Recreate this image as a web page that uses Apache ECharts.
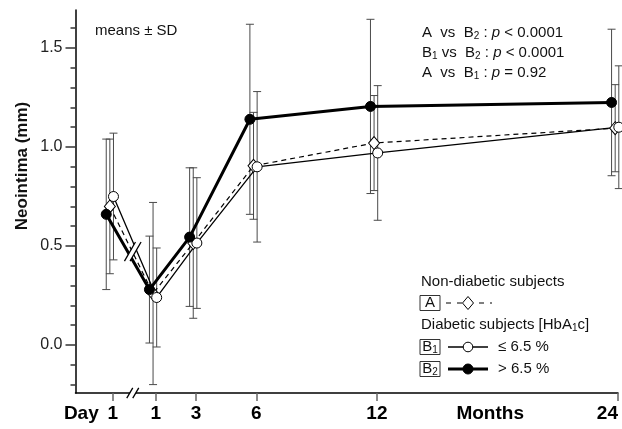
<!DOCTYPE html>
<html><head><meta charset="utf-8">
<script src="https://cdn.jsdelivr.net/npm/echarts@6/dist/echarts.min.js"></script>
<style>html,body{margin:0;padding:0;background:#fff}#c{width:622px;height:429px}</style>
</head><body><div id="c"></div>
<script>
// ---- data ----
const timeLabels  = ['1', '1', '3', '6', '12', '24'];
const timeAxisPos = [-1.15, 1, 3, 6, 12, 24];          // months (Day 1 sits before the axis break)
const meanA  = [0.70, 0.26, 0.515, 0.905, 1.02, 1.095];
const sdA    = [0.34, 0.46, 0.38, 0.27, 0.24, 0.22];
const meanB1 = [0.75, 0.24, 0.515, 0.90, 0.97, 1.10];
const sdB1   = [0.32, 0.25, 0.33, 0.38, 0.34, 0.31];
const meanB2 = [0.66, 0.28, 0.545, 1.14, 1.205, 1.225];
const sdB2   = [0.38, 0.27, 0.35, 0.48, 0.44, 0.37];
const yLabelValues = [0, 0.5, 1.0, 1.5];
const yMinorTicks  = [-0.2, -0.1, 0.1, 0.2, 0.3, 0.4, 0.6, 0.7, 0.8, 0.9, 1.1, 1.2, 1.3, 1.4, 1.6];
const xExtraLabels = [{text: 'Day', at: -2.71}, {text: 'Months', at: 17.64}];

// ---- layout / style ----
const Y_MIN = -0.2424, Y_MAX = 1.692, X_MIN = -3, X_MAX = 24;
const dodge = {A: -0.14, B1: 0.04, B2: -0.32};
const BREAK_X = -0.15;
const ERR_COLOR = '#4a4a4a';
const SANS = "'Liberation Sans', Arial, sans-serif";

const xLabelValues = timeAxisPos.concat(xExtraLabels.map(d => d.at)).sort((a, b) => a - b);
function xLabelText(v) {
  for (let i = 0; i < timeAxisPos.length; i++) if (Math.abs(timeAxisPos[i] - v) < 1e-6) return timeLabels[i];
  for (const d of xExtraLabels) if (Math.abs(d.at - v) < 1e-6) return d.text;
  return '';
}

function pts(mean, off) { return timeAxisPos.map((t, i) => [t + off, mean[i]]); }
function errs(mean, sd, off) { return timeAxisPos.map((t, i) => [t + off, mean[i] - sd[i], mean[i] + sd[i]]); }

function errRender(params, api) {
  const x = api.value(0);
  const lo = api.coord([x, api.value(1)]);
  const hi = api.coord([x, api.value(2)]);
  const w = 4;
  const st = {stroke: ERR_COLOR, lineWidth: 1, fill: null};
  return {type: 'group', children: [
    {type: 'line', shape: {x1: lo[0], y1: lo[1], x2: hi[0], y2: hi[1]}, style: st},
    {type: 'line', shape: {x1: lo[0] - w, y1: lo[1], x2: lo[0] + w, y2: lo[1]}, style: st},
    {type: 'line', shape: {x1: hi[0] - w, y1: hi[1], x2: hi[0] + w, y2: hi[1]}, style: st}
  ]};
}

function interpAt(mean, off, x) {
  const x0 = timeAxisPos[0] + off, x1 = timeAxisPos[1] + off;
  const t = (x - x0) / (x1 - x0);
  return mean[0] + t * (mean[1] - mean[0]);
}
const breakY = (interpAt(meanA, dodge.A, BREAK_X) + interpAt(meanB1, dodge.B1, BREAK_X) + interpAt(meanB2, dodge.B2, BREAK_X)) / 3;

function slashMark(c, L, d, lw) {
  const ux = 0.5 * L / 2, uy = -0.866 * L / 2;
  return {type: 'group', children: [
    {type: 'polygon', shape: {points: [
      [c[0] - d - ux * 0.8, c[1] - uy * 0.8], [c[0] - d + ux * 0.8, c[1] + uy * 0.8],
      [c[0] + d + ux * 0.8, c[1] + uy * 0.8], [c[0] + d - ux * 0.8, c[1] - uy * 0.8]]},
      style: {fill: '#fff', stroke: null}},
    {type: 'line', shape: {x1: c[0] - d - ux, y1: c[1] - uy, x2: c[0] - d + ux, y2: c[1] + uy}, style: {stroke: '#000', lineWidth: lw}},
    {type: 'line', shape: {x1: c[0] + d - ux, y1: c[1] - uy, x2: c[0] + d + ux, y2: c[1] + uy}, style: {stroke: '#000', lineWidth: lw}}
  ]};
}

const chart = echarts.init(document.getElementById('c'), null, {renderer: 'canvas'});

const subRich = {
  t: {fontSize: 15, fontFamily: SANS, color: '#111'},
  s: {fontSize: 10, fontFamily: SANS, color: '#111', padding: [6, 0, 0, 0]},
  i: {fontSize: 15, fontFamily: SANS, fontStyle: 'italic', color: '#111'}
};
function richText(x, y, text, align) {
  return {type: 'text', x: x, y: y, z: 50,
    style: {text: text, rich: subRich, font: '15px ' + SANS, fill: '#111', align: align || 'left', verticalAlign: 'middle'}};
}
function box(x, cy, text) {
  return [
    {type: 'rect', shape: {x: x, y: cy - 7.5, width: 20, height: 15}, style: {fill: '#fff', stroke: '#333', lineWidth: 1}, z: 50},
    richText(x + 10, cy, text, 'center')
  ];
}
const LX = 420;
const rowA = 303, rowB1 = 347, rowB2 = 369;
const graphics = [
  {type: 'text', x: 22, y: 166, rotation: Math.PI / 2, z: 50,
    style: {text: 'Neointima (mm)', font: 'bold 17px ' + SANS, fill: '#111', align: 'center', verticalAlign: 'middle'}},
  richText(95, 31, '{t|means ± SD}'),
  richText(422, 33, '{t|A  vs  B}{s|2}{t| : }{i|p}{t| < 0.0001}'),
  richText(422, 53, '{t|B}{s|1}{t| vs  B}{s|2}{t| : }{i|p}{t| < 0.0001}'),
  richText(422, 73, '{t|A  vs  B}{s|1}{t| : }{i|p}{t| = 0.92}'),
  richText(421, 282, '{t|Non-diabetic subjects}'),
  ...box(LX, rowA, '{t|A}'),
  {type: 'line', z: 50, shape: {x1: 446, y1: rowA, x2: 492, y2: rowA}, style: {stroke: '#000', lineWidth: 1.2, lineDash: [5, 6]}},
  {type: 'polygon', z: 51, shape: {points: [[468, rowA - 6.5], [473.5, rowA], [468, rowA + 6.5], [462.5, rowA]]}, style: {fill: '#fff', stroke: '#000', lineWidth: 1}},
  richText(421, 325, '{t|Diabetic subjects [HbA}{s|1}{t|c]}'),
  ...box(LX, rowB1, '{t|B}{s|1}'),
  {type: 'line', z: 50, shape: {x1: 448, y1: rowB1, x2: 488, y2: rowB1}, style: {stroke: '#000', lineWidth: 1.3}},
  {type: 'circle', z: 51, shape: {cx: 468, cy: rowB1, r: 4.8}, style: {fill: '#fff', stroke: '#000', lineWidth: 1}},
  richText(498, rowB1, '{t|≤ 6.5 %}'),
  ...box(LX, rowB2, '{t|B}{s|2}'),
  {type: 'line', z: 50, shape: {x1: 448, y1: rowB2, x2: 488, y2: rowB2}, style: {stroke: '#000', lineWidth: 3}},
  {type: 'circle', z: 51, shape: {cx: 468, cy: rowB2, r: 5}, style: {fill: '#000', stroke: '#000', lineWidth: 1}},
  richText(498, rowB2, '{t|> 6.5 %}')
];

const option = {
  animation: false,
  backgroundColor: '#fff',
  grid: {left: 75.5, right: 4, top: 10, bottom: 36, containLabel: false, outerBoundsMode: 'none'},
  xAxis: {
    type: 'value', min: X_MIN, max: X_MAX,
    splitLine: {show: false},
    axisLine: {show: true, onZero: false, lineStyle: {color: '#000', width: 1.5}},
    axisTick: {show: true, customValues: timeAxisPos, length: 8, lineStyle: {color: '#666', width: 1.5}},
    axisLabel: {show: true, customValues: xLabelValues, formatter: xLabelText, margin: 11, alignMaxLabel: 'right',
      fontFamily: SANS, fontWeight: 'bold', fontSize: 19, color: '#000'}
  },
  yAxis: [{
    type: 'value', min: Y_MIN, max: Y_MAX,
    splitLine: {show: false},
    axisLine: {show: true, onZero: false, lineStyle: {color: '#000', width: 1.5}},
    axisTick: {show: true, customValues: yLabelValues, length: 10, lineStyle: {color: '#333', width: 1.5}},
    axisLabel: {show: true, customValues: yLabelValues, margin: 13, fontFamily: SANS, fontSize: 16, color: '#222',
      formatter: v => v.toFixed(1)}
  }, {
    type: 'value', min: Y_MIN, max: Y_MAX, position: 'left',
    splitLine: {show: false},
    axisLine: {show: false, onZero: false},
    axisTick: {show: true, customValues: yMinorTicks, length: 5, lineStyle: {color: '#333', width: 1.5}},
    axisLabel: {show: false}
  }],
  series: [
    {type: 'custom', name: 'errA', renderItem: errRender, data: errs(meanA, sdA, dodge.A), encode: {x: 0, y: [1, 2]}, z: 1, clip: false},
    {type: 'custom', name: 'errB1', renderItem: errRender, data: errs(meanB1, sdB1, dodge.B1), encode: {x: 0, y: [1, 2]}, z: 1, clip: false},
    {type: 'custom', name: 'errB2', renderItem: errRender, data: errs(meanB2, sdB2, dodge.B2), encode: {x: 0, y: [1, 2]}, z: 1, clip: false},
    {type: 'line', name: 'A', data: pts(meanA, dodge.A), clip: false, z: 3,
      lineStyle: {color: '#000', width: 1.2, type: [5, 4]},
      symbol: 'diamond', symbolSize: [11, 13], itemStyle: {color: '#fff', borderColor: '#000', borderWidth: 1}},
    {type: 'line', name: 'B1', data: pts(meanB1, dodge.B1), clip: false, z: 3,
      lineStyle: {color: '#000', width: 1.3},
      symbol: 'circle', symbolSize: 10, itemStyle: {color: '#fff', borderColor: '#000', borderWidth: 1}},
    {type: 'line', name: 'B2', data: pts(meanB2, dodge.B2), clip: false, z: 4,
      lineStyle: {color: '#000', width: 3},
      symbol: 'circle', symbolSize: 10, itemStyle: {color: '#000', borderColor: '#000', borderWidth: 1}},
    {type: 'custom', name: 'lineBreak', data: [[BREAK_X, breakY]], clip: false, z: 6, encode: {x: 0, y: 1},
      renderItem: (p, api) => slashMark(api.coord([api.value(0), api.value(1)]), 22, 2.8, 1.3)},
    {type: 'custom', name: 'axisBreak', data: [[BREAK_X, Y_MIN]], clip: false, z: 6, encode: {x: 0, y: 1},
      renderItem: (p, api) => slashMark(api.coord([api.value(0), api.value(1)]), 12, 3, 1.3)}
  ],
  graphic: graphics
};
chart.setOption(option);
</script>
</body></html>
